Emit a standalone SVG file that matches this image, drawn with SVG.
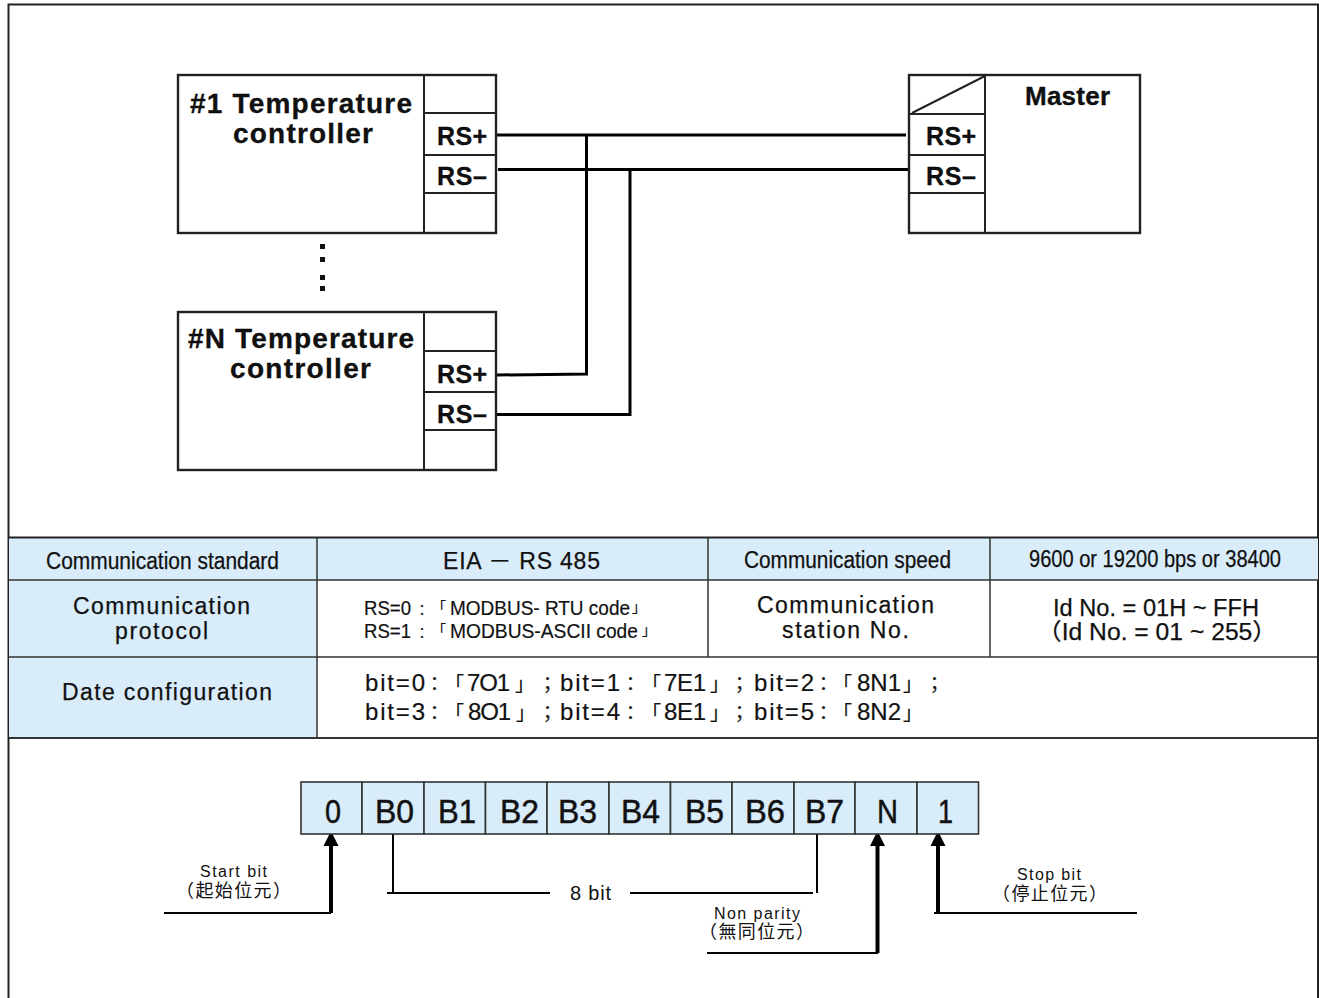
<svg xmlns="http://www.w3.org/2000/svg" width="1319" height="998" viewBox="0 0 1319 998">
<style>
text{font-family:"Liberation Sans","Noto Sans CJK TC",sans-serif;fill:#111;text-spacing-trim:space-all}
.b{font-weight:700;font-size:28px;stroke:#000;stroke-width:.3}
.p{font-weight:700;font-size:25px;stroke:#000;stroke-width:.3}
.m{font-weight:700;font-size:26px;stroke:#000;stroke-width:.3}
.t{font-size:23px;stroke:#111;stroke-width:.25}
.c{font-size:23px;stroke:#111;stroke-width:.25}
.r{font-size:21px;stroke:#111;stroke-width:.2}
.q{font-size:24px;stroke:#111;stroke-width:.2}
.k{font-size:14px}
.j{font-size:19px}
.bit{font-size:34px;stroke:#111;stroke-width:.5}
.s{font-size:16px}
.z{font-size:18px}
.box{fill:#fff;stroke:#222;stroke-width:2.4}
.ln{fill:none;stroke:#222;stroke-width:2}
.w{fill:none;stroke:#000;stroke-width:3}
.thin{fill:none;stroke:#000;stroke-width:2}
.thick{fill:none;stroke:#000;stroke-width:4}
.cell{fill:#d9ecfa;stroke:#333;stroke-width:1.6}
.fill{fill:#d9ecfa}
.tl{fill:none;stroke:#333;stroke-width:1.5}
.ah{fill:#000}
</style>
<rect width="1319" height="998" fill="#fff"/>
<g id="frame">
<path class="ln" d="M8.5 998V4.500H1318V998"/>
</g>
<g id="table">
<rect class="fill" x="9" y="538" width="1309" height="42"/>
<rect class="fill" x="9" y="580" width="308" height="158"/>
<path d="M9 537.500H1318" stroke="#222" stroke-width="2" fill="none"/>
<path class="tl" d="M9 580H1318M9 657H1318M317 538V738M708 538V657M990 538V657"/>
<path d="M9 738H1318" stroke="#333" stroke-width="1.8" fill="none"/>
<text class="c" x="46" y="569" textLength="233" lengthAdjust="spacingAndGlyphs">Communication standard</text>
<text class="t" x="443" y="569" textLength="157" lengthAdjust="spacing">EIA － RS  485</text>
<text class="c" x="744" y="568" textLength="207" lengthAdjust="spacingAndGlyphs">Communication speed</text>
<text class="c" x="1029" y="567" textLength="252" lengthAdjust="spacingAndGlyphs">9600 or 19200 bps or 38400</text>
<text class="t" x="73" y="614" textLength="177" lengthAdjust="spacing">Communication</text>
<text class="t" x="115" y="639" textLength="93" lengthAdjust="spacing">protocol</text>
<text class="r" y="615"><tspan x="364" textLength="47" lengthAdjust="spacingAndGlyphs">RS=0</tspan><tspan class="k" x="415">：</tspan><tspan class="k" x="432" y="612">「</tspan><tspan x="450" y="615" textLength="180" lengthAdjust="spacingAndGlyphs">MODBUS- RTU code</tspan><tspan class="k" x="632" y="612">」</tspan></text>
<text class="r" y="638"><tspan x="364" textLength="47" lengthAdjust="spacingAndGlyphs">RS=1</tspan><tspan class="k" x="415">：</tspan><tspan class="k" x="432" y="635">「</tspan><tspan x="450" y="638" textLength="188" lengthAdjust="spacingAndGlyphs">MODBUS-ASCII code</tspan><tspan class="k" x="642" y="635">」</tspan></text>
<text class="t" x="757" y="613" textLength="177" lengthAdjust="spacing">Communication</text>
<text class="t" x="782" y="638" textLength="127" lengthAdjust="spacing">station No.</text>
<text class="t" x="1053" y="616" textLength="206" lengthAdjust="spacingAndGlyphs">Id No. = 01H ~ FFH</text>
<text class="t" x="1037" y="640" textLength="240" lengthAdjust="spacingAndGlyphs">（Id No. = 01 ~ 255）</text>
<text class="t" x="62" y="700" textLength="210" lengthAdjust="spacing">Date configuration</text>
<text class="q" y="691"><tspan x="365" textLength="60" lengthAdjust="spacing">bit=0</tspan><tspan class="j" x="425">：</tspan><tspan class="j" x="445">「</tspan><tspan x="467" textLength="43" lengthAdjust="spacing">7O1</tspan><tspan class="j" x="515">」</tspan><tspan class="j" x="538">；</tspan><tspan x="560" textLength="60" lengthAdjust="spacing">bit=1</tspan><tspan class="j" x="621">：</tspan><tspan class="j" x="642">「</tspan><tspan x="664" textLength="42" lengthAdjust="spacing">7E1</tspan><tspan class="j" x="710">」</tspan><tspan class="j" x="730">；</tspan><tspan x="754" textLength="60" lengthAdjust="spacing">bit=2</tspan><tspan class="j" x="814">：</tspan><tspan class="j" x="833">「</tspan><tspan x="857" textLength="44" lengthAdjust="spacing">8N1</tspan><tspan class="j" x="903">」</tspan><tspan class="j" x="925">；</tspan></text>
<text class="q" y="720"><tspan x="365" textLength="60" lengthAdjust="spacing">bit=3</tspan><tspan class="j" x="425">：</tspan><tspan class="j" x="445">「</tspan><tspan x="468" textLength="43" lengthAdjust="spacing">8O1</tspan><tspan class="j" x="516">」</tspan><tspan class="j" x="538">；</tspan><tspan x="560" textLength="60" lengthAdjust="spacing">bit=4</tspan><tspan class="j" x="621">：</tspan><tspan class="j" x="642">「</tspan><tspan x="664" textLength="42" lengthAdjust="spacing">8E1</tspan><tspan class="j" x="710">」</tspan><tspan class="j" x="730">；</tspan><tspan x="754" textLength="60" lengthAdjust="spacing">bit=5</tspan><tspan class="j" x="814">：</tspan><tspan class="j" x="833">「</tspan><tspan x="857" textLength="44" lengthAdjust="spacing">8N2</tspan><tspan class="j" x="903">」</tspan></text>
</g>
<g id="connectors">
<path class="w" d="M497 135H906M498 169.500H908"/>
<path class="w" d="M586.500 135V374M497 375L588 374M630 169V414M497 414.500H631.500"/>
<path class="thick" d="M331 840V913M877.500 840V953M938 840V913"/>
<path class="thin" d="M164 913H331M707 953H878M934 913H1137"/>
<path class="thin" d="M393 831V893M387 893H550M630 893H813M817 832V893"/>
<polygon class="ah" points="331,831 338.500,846 323.500,846"/>
<polygon class="ah" points="877.500,831 885,846 870,846"/>
<polygon class="ah" points="938,831 945.500,846 930.500,846"/>
</g>
<g id="controller-1">
<rect class="box" x="178" y="75" width="318" height="158"/>
<path class="ln" d="M424 75V233M424 113H497M424 155H497M424 193H497"/>
<text class="b" x="190" y="113" textLength="222" lengthAdjust="spacing">#1 Temperature</text>
<text class="b" x="233" y="143" textLength="140" lengthAdjust="spacing">controller</text>
<text class="p" x="437" y="145" textLength="50" lengthAdjust="spacing">RS+</text>
<text class="p" x="437" y="185" textLength="50" lengthAdjust="spacing">RS–</text>
</g>
<g id="ellipsis">
<rect x="320" y="244" width="5" height="5" fill="#111"/>
<rect x="320" y="257" width="5" height="5" fill="#111"/>
<rect x="320" y="275" width="5" height="5" fill="#111"/>
<rect x="320" y="286" width="5" height="5" fill="#111"/>
</g>
<g id="controller-n">
<rect class="box" x="178" y="312" width="318" height="158"/>
<path class="ln" d="M424 312V471M424 351H497M424 392H497M424 430H497"/>
<text class="b" x="188" y="348" textLength="226" lengthAdjust="spacing">#N Temperature</text>
<text class="b" x="230" y="378" textLength="141" lengthAdjust="spacing">controller</text>
<text class="p" x="437" y="383" textLength="50" lengthAdjust="spacing">RS+</text>
<text class="p" x="437" y="423" textLength="50" lengthAdjust="spacing">RS–</text>
</g>
<g id="master">
<rect class="box" x="909" y="75" width="231" height="158"/>
<path class="ln" d="M985 75V233M909 114H985M909 155H985M909 193H985M912 113L985 76"/>
<text class="m" x="1025" y="105" textLength="85" lengthAdjust="spacing">Master</text>
<text class="p" x="926" y="145" textLength="50" lengthAdjust="spacing">RS+</text>
<text class="p" x="926" y="185" textLength="50" lengthAdjust="spacing">RS–</text>
</g>
<g id="frame-bits">
<rect class="cell" x="301" y="782" width="61" height="52"/>
<rect class="cell" x="362" y="782" width="62" height="52"/>
<rect class="cell" x="424" y="782" width="61.500" height="52"/>
<rect class="cell" x="485.500" y="782" width="61.500" height="52"/>
<rect class="cell" x="547" y="782" width="62" height="52"/>
<rect class="cell" x="609" y="782" width="61.500" height="52"/>
<rect class="cell" x="670.500" y="782" width="61.500" height="52"/>
<rect class="cell" x="732" y="782" width="62" height="52"/>
<rect class="cell" x="794" y="782" width="61" height="52"/>
<rect class="cell" x="855" y="782" width="62" height="52"/>
<rect class="cell" x="917" y="782" width="61.500" height="52"/>
<text class="bit" x="325" y="823" textLength="16" lengthAdjust="spacingAndGlyphs">0</text>
<text class="bit" x="375" y="823" textLength="39" lengthAdjust="spacingAndGlyphs">B0</text>
<text class="bit" x="438" y="823" textLength="38" lengthAdjust="spacingAndGlyphs">B1</text>
<text class="bit" x="500" y="823" textLength="39" lengthAdjust="spacingAndGlyphs">B2</text>
<text class="bit" x="558" y="823" textLength="39" lengthAdjust="spacingAndGlyphs">B3</text>
<text class="bit" x="621" y="823" textLength="39" lengthAdjust="spacingAndGlyphs">B4</text>
<text class="bit" x="685" y="823" textLength="39" lengthAdjust="spacingAndGlyphs">B5</text>
<text class="bit" x="745" y="823" textLength="40" lengthAdjust="spacingAndGlyphs">B6</text>
<text class="bit" x="805" y="823" textLength="39" lengthAdjust="spacingAndGlyphs">B7</text>
<text class="bit" x="877" y="823" textLength="21" lengthAdjust="spacingAndGlyphs">N</text>
<text class="bit" x="938" y="823" textLength="15" lengthAdjust="spacingAndGlyphs">1</text>
</g>
<g id="bit-labels">
<text class="s" x="200" y="877" textLength="67" lengthAdjust="spacing">Start bit</text>
<text class="z" x="176" y="897" textLength="115" lengthAdjust="spacing">（起始位元）</text>
<text font-size="20" x="570" y="900" textLength="41" lengthAdjust="spacing">8 bit</text>
<text class="s" x="1017" y="880" textLength="64" lengthAdjust="spacing">Stop bit</text>
<text class="z" x="992" y="900" textLength="115" lengthAdjust="spacing">（停止位元）</text>
<text class="s" x="714" y="919" textLength="86" lengthAdjust="spacing">Non parity</text>
<text class="z" x="699" y="938" textLength="115" lengthAdjust="spacing">（無同位元）</text>
</g>
</svg>
